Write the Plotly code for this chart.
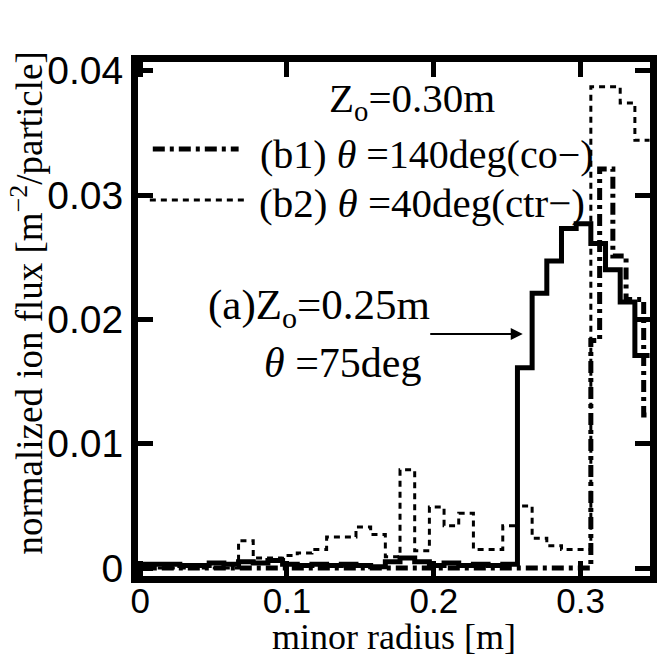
import plotly.graph_objects as go

# ---------------- data ----------------
# (a) Zo=0.25m, theta=75deg  (solid)
a_edges = [-0.003, 0.007, 0.017, 0.027, 0.037, 0.047, 0.057, 0.067, 0.077, 0.087,
           0.097, 0.107, 0.117, 0.127, 0.137, 0.147, 0.157, 0.167, 0.177, 0.187,
           0.197, 0.207, 0.217, 0.227, 0.237, 0.247, 0.257, 0.267, 0.277, 0.287,
           0.297, 0.307, 0.317, 0.327, 0.337, 0.347]
a_values = [0.0003, 0.0003, 0.0003, 0.0002, 0.0002, 0.0004, 0.0003, 0.0005, 0.0004, 0.0006,
            0.0003, 0.0002, 0.0003, 0.0002, 0.0003, 0.0002, 0.0001, 0.0005, 0.0008, 0.0005,
            0.0002, 0.0004, 0.0002, 0.0003, 0.0002, 0.0003, 0.0161, 0.0221, 0.0247, 0.0273,
            0.0277, 0.0261, 0.0240, 0.0214, 0.0171]

# (b1) Zo=0.30m, theta=140deg (co-)  (dash-dot)
b1_edges = [-0.003, 0.307, 0.313, 0.322, 0.331, 0.343, 0.347]
b1_values = [0.0, 0.0183, 0.0321, 0.0251, 0.0216, 0.0123]

# (b2) Zo=0.30m, theta=40deg (ctr-)  (dashed)
b2_edges = [-0.003, 0.067, 0.077, 0.087, 0.097, 0.107, 0.117, 0.127, 0.137, 0.147,
            0.157, 0.167, 0.177, 0.187, 0.197, 0.207, 0.217, 0.227, 0.237, 0.247,
            0.257, 0.267, 0.277, 0.287, 0.297, 0.307, 0.317, 0.327, 0.337, 0.347]
b2_values = [0.0, 0.0022, 0.0008, 0.0008, 0.0010, 0.0012, 0.0015, 0.0025, 0.0025, 0.0033,
             0.0027, 0.0009, 0.0079, 0.0014, 0.0049, 0.0034, 0.0044, 0.0015, 0.0015, 0.0034,
             0.0050, 0.0024, 0.0018, 0.0015, 0.0015, 0.0387, 0.0387, 0.0374, 0.0344]

x_tickvals = [0, 0.1, 0.2, 0.3]
x_ticktext = ["0", "0.1", "0.2", "0.3"]
y_tickvals = [0, 0.01, 0.02, 0.03, 0.04]
y_ticktext = ["0", "0.01", "0.02", "0.03", "0.04"]

x_title = "minor radius [m]"
y_title = "normalized ion flux [m<sup>−2</sup>/particle]"
legend_head = "Z<sub>o</sub>=0.30m"
b1_label = "(b1) <i>θ</i> =140deg(co−)"
b2_label = "(b2) <i>θ</i> =40deg(ctr−)"
a_label1 = "(a)Z<sub>o</sub>=0.25m"
a_label2 = "<i>θ</i> =75deg"

# ---------------- layout geometry ----------------
W_FIG, H_FIG = 665, 660
L, R, T, B = 138, 8, 62, 84
PW = W_FIG - L - R
PH = H_FIG - T - B


def px_x(p):
    return (p - L) / PW


def px_y(p):
    return (H_FIG - B - p) / PH


SERIF = "Liberation Serif, Times New Roman, serif"
SANS = "Liberation Sans, Arial, sans-serif"

B1_DASH = "12px,5px,4px,5px"
B2_DASH = "6px,5px"


def steps(edges, values):
    return list(edges), list(values) + [values[-1]]


fig = go.Figure()

x, y = steps(b2_edges, b2_values)
fig.add_trace(go.Scatter(x=x, y=y, mode="lines", line_shape="hv",
                         line=dict(color="black", width=3, dash=B2_DASH),
                         showlegend=False, hoverinfo="skip"))
x, y = steps(b1_edges, b1_values)
fig.add_trace(go.Scatter(x=x, y=y, mode="lines", line_shape="hv",
                         line=dict(color="black", width=5, dash=B1_DASH),
                         showlegend=False, hoverinfo="skip"))
x, y = steps(a_edges, a_values)
fig.add_trace(go.Scatter(x=x, y=y, mode="lines", line_shape="hv",
                         line=dict(color="black", width=5),
                         showlegend=False, hoverinfo="skip"))

axis_common = dict(showgrid=False, zeroline=False, showline=True, linecolor="black",
                   linewidth=7, mirror="ticks", ticks="inside", ticklen=15,
                   tickwidth=5, tickcolor="black")

fig.update_xaxes(range=[-0.0015, 0.3473], tickvals=x_tickvals, ticktext=x_ticktext,
                 tickfont=dict(family=SANS, size=35, color="black"),
                 ticklabelstandoff=-12, **axis_common)
fig.update_yaxes(range=[-0.00064, 0.0407], tickvals=y_tickvals, ticktext=y_ticktext,
                 tickfont=dict(family=SANS, size=39, color="black"), **axis_common)

ann = []
ann.append(dict(text=x_title, xref="paper", yref="paper", x=px_x(398), y=px_y(659),
                xanchor="center", yanchor="bottom", showarrow=False,
                font=dict(family=SERIF, size=36, color="black")))
ann.append(dict(text=y_title, xref="paper", yref="paper", x=px_x(25), y=px_y(303),
                xanchor="center", yanchor="middle", showarrow=False, textangle=-90,
                font=dict(family=SERIF, size=37, color="black")))
ann.append(dict(text=legend_head, xref="paper", yref="paper", x=px_x(330), y=px_y(101),
                xanchor="left", yanchor="middle", showarrow=False,
                font=dict(family=SERIF, size=41, color="black")))
ann.append(dict(text=b1_label, xref="paper", yref="paper", x=px_x(260), y=px_y(154),
                xanchor="left", yanchor="middle", showarrow=False,
                font=dict(family=SERIF, size=40, color="black")))
ann.append(dict(text=b2_label, xref="paper", yref="paper", x=px_x(259), y=px_y(203),
                xanchor="left", yanchor="middle", showarrow=False,
                font=dict(family=SERIF, size=41, color="black")))
ann.append(dict(text=a_label1, xref="paper", yref="paper", x=px_x(207), y=px_y(308),
                xanchor="left", yanchor="middle", showarrow=False,
                font=dict(family=SERIF, size=43, color="black")))
ann.append(dict(text=a_label2, xref="paper", yref="paper", x=px_x(264), y=px_y(363),
                xanchor="left", yanchor="middle", showarrow=False,
                font=dict(family=SERIF, size=42, color="black")))
ann.append(dict(text="", xref="paper", yref="paper", x=px_x(528), y=px_y(334),
                ax=-94, ay=0, showarrow=True, arrowhead=2, arrowsize=1.2,
                arrowwidth=2, arrowcolor="black"))

shapes = [
    dict(type="line", xref="paper", yref="paper", x0=px_x(153), x1=px_x(240),
         y0=px_y(149), y1=px_y(149), line=dict(color="black", width=5, dash=B1_DASH)),
    dict(type="line", xref="paper", yref="paper", x0=px_x(150), x1=px_x(249),
         y0=px_y(200), y1=px_y(200), line=dict(color="black", width=3, dash=B2_DASH)),
]

fig.update_layout(width=W_FIG, height=H_FIG, margin=dict(l=L, r=R, t=T, b=B),
                  paper_bgcolor="white", plot_bgcolor="white",
                  annotations=ann, shapes=shapes, showlegend=False)

fig.write_html("out.html")
